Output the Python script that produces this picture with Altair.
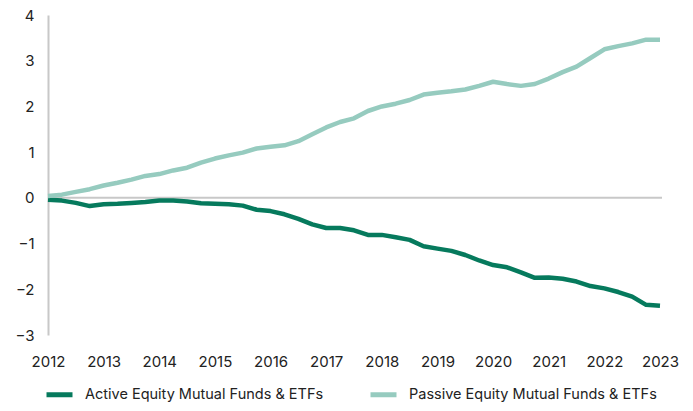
import altair as alt
import pandas as pd

start_year = 2012
active = [-0.04, -0.06, -0.11, -0.18, -0.14, -0.13, -0.11, -0.09, -0.06, -0.06, -0.08, -0.12,
          -0.13, -0.14, -0.17, -0.26, -0.29, -0.36, -0.46, -0.58, -0.66, -0.66, -0.71, -0.81,
          -0.81, -0.86, -0.92, -1.06, -1.11, -1.16, -1.25, -1.37, -1.47, -1.52, -1.63, -1.75,
          -1.74, -1.77, -1.83, -1.93, -1.98, -2.06, -2.16, -2.34, -2.36]
passive = [0.04, 0.07, 0.13, 0.19, 0.27, 0.33, 0.40, 0.48, 0.52, 0.60, 0.66, 0.77,
           0.86, 0.93, 0.99, 1.08, 1.12, 1.15, 1.24, 1.39, 1.54, 1.66, 1.74, 1.90,
           2.00, 2.06, 2.14, 2.26, 2.30, 2.33, 2.37, 2.45, 2.54, 2.49, 2.45, 2.49,
           2.61, 2.75, 2.87, 3.06, 3.25, 3.32, 3.38, 3.46, 3.46]
series_names = ["Active Equity Mutual Funds & ETFs", "Passive Equity Mutual Funds & ETFs"]
colors = ["#067A5D", "#96CBBF"]
year_ticks = list(range(2012, 2024))
y_ticks = [-3, -2, -1, 0, 1, 2, 3, 4]

rows = []
for i, v in enumerate(active):
    rows.append({"t": start_year + i * 0.25, "v": v, "s": series_names[0]})
for i, v in enumerate(passive):
    rows.append({"t": start_year + i * 0.25, "v": v, "s": series_names[1]})
df = pd.DataFrame(rows)

FONT = "Inter"

zero = alt.Chart(pd.DataFrame({"y": [0]})).mark_rule(color="#c8c8c8", strokeWidth=2).encode(
    y=alt.Y("y:Q", scale=alt.Scale(domain=[-3, 4])),
    x=alt.value(0), x2=alt.value(614)
)

lines = alt.Chart(df).mark_line(strokeWidth=4.5, strokeJoin="round").encode(
    x=alt.X("t:Q", scale=alt.Scale(domain=[2012, 2023], nice=False),
            axis=alt.Axis(values=year_ticks, format="d", title=None, domain=False, ticks=False,
                          grid=False, labelPadding=19, labelFontSize=15, labelColor="#222222",
                          labelFont=FONT, labelFlush=False, labelOverlap=False)),
    y=alt.Y("v:Q", scale=alt.Scale(domain=[-3, 4], nice=False),
            axis=alt.Axis(values=y_ticks, title=None, domain=True, domainColor="#c8c8c8",
                          domainWidth=2, ticks=False, grid=False, labelPadding=14,
                          labelFontSize=15, labelColor="#222222", labelFont=FONT)),
    color=alt.Color("s:N", scale=alt.Scale(domain=series_names, range=colors),
                    legend=alt.Legend(title=None, orient="none", direction="horizontal",
                                      legendX=-4, legendY=364, symbolType="stroke",
                                      symbolSize=676, symbolStrokeWidth=5, labelFontSize=14.5,
                                      labelColor="#222222", labelFont=FONT, columnPadding=36,
                                      labelOffset=10, labelLimit=0)),
    detail="s:N"
)

chart = alt.layer(zero, lines).properties(
    width=612, height=320,
    autosize=alt.AutoSizeParams(type="none"),
    padding={"left": 40, "top": 7, "right": 25, "bottom": 68}
).configure_view(stroke=None)

chart.save("out.html", embed_options={"renderer": "svg", "actions": False})
